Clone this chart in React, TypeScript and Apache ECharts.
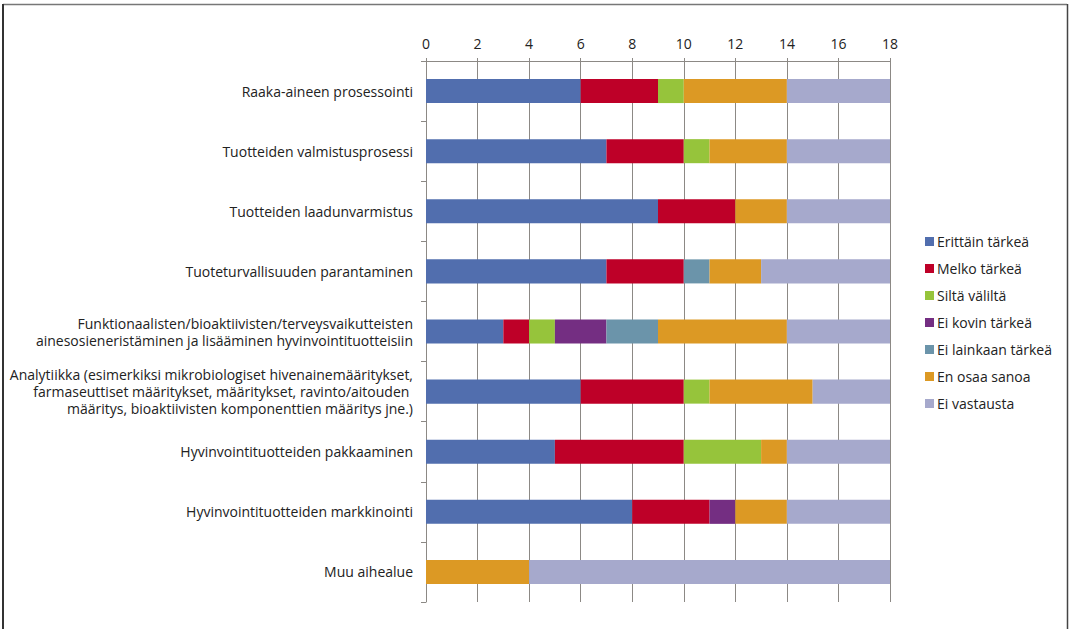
import React, { useEffect, useRef } from "react";
import * as echarts from "echarts";

const categories = [
  "Raaka-aineen prosessointi",
  "Tuotteiden valmistusprosessi",
  "Tuotteiden laadunvarmistus",
  "Tuoteturvallisuuden parantaminen",
  "Funktionaalisten/bioaktiivisten/terveysvaikutteisten\nainesosieneristäminen ja lisääminen hyvinvointituotteisiin",
  "Analytiikka (esimerkiksi mikrobiologiset hivenainemääritykset,\nfarmaseuttiset määritykset, määritykset, ravinto/aitouden \nmääritys, bioaktiivisten komponenttien määritys jne.)",
  "Hyvinvointituotteiden pakkaaminen",
  "Hyvinvointituotteiden markkinointi",
  "Muu aihealue",
];

const seriesNames = [
  "Erittäin tärkeä",
  "Melko tärkeä",
  "Siltä väliltä",
  "Ei kovin tärkeä",
  "Ei lainkaan tärkeä",
  "En osaa sanoa",
  "Ei vastausta",
];

const erittainTarkea = [6, 7, 9, 7, 3, 6, 5, 8, 0];
const melkoTarkea = [3, 3, 3, 3, 1, 4, 5, 3, 0];
const siltaValilta = [1, 1, 0, 0, 1, 1, 3, 0, 0];
const eiKovinTarkea = [0, 0, 0, 0, 2, 0, 0, 1, 0];
const eiLainkaanTarkea = [0, 0, 0, 1, 2, 0, 0, 0, 0];
const enOsaaSanoa = [4, 3, 2, 2, 5, 4, 1, 2, 4];
const eiVastausta = [4, 4, 4, 5, 4, 3, 4, 4, 14];

const seriesValues = [
  erittainTarkea,
  melkoTarkea,
  siltaValilta,
  eiKovinTarkea,
  eiLainkaanTarkea,
  enOsaaSanoa,
  eiVastausta,
];

const colors = ["#516eae", "#be0028", "#96c43b", "#742e82", "#6b94aa", "#dc9924", "#a6a9cc"];

const FONT = "'Open Sans', 'Liberation Sans', Arial, sans-serif";

export default function App() {
  const ref = useRef<HTMLDivElement>(null);

  useEffect(() => {
    if (!ref.current) return;
    const chart = echarts.init(ref.current, null, { renderer: "svg" });
    chart.setOption({
      animation: false,
      backgroundColor: "#ffffff",
      color: colors,
      textStyle: { fontFamily: FONT },
      grid: { left: 426, right: 181, top: 61, bottom: 27, containLabel: false },
      legend: {
        orient: "vertical",
        left: 920,
        top: 228,
        itemWidth: 9,
        itemHeight: 9,
        itemGap: 10,
        icon: "rect",
        data: seriesNames,
        textStyle: { fontSize: 14, color: "#222", fontFamily: FONT, lineHeight: 17, padding: [0, 0, 0, -2] },
      },
      xAxis: {
        type: "value",
        position: "top",
        min: 0,
        max: 18,
        interval: 2,
        axisLine: { show: true, lineStyle: { color: "#8c8985", width: 1 } },
        axisTick: { show: true, length: 3, lineStyle: { color: "#8c8985" } },
        axisLabel: { fontSize: 14, color: "#222", margin: 11, fontFamily: FONT },
        splitLine: { show: true, lineStyle: { color: "#8c8985", width: 1 } },
      },
      yAxis: {
        type: "category",
        inverse: true,
        data: categories,
        axisLine: { show: true, lineStyle: { color: "#8c8985" } },
        axisTick: { show: true, length: 5, lineStyle: { color: "#8c8985" } },
        axisLabel: {
          fontSize: 14,
          color: "#222",
          margin: 13,
          align: "right",
          lineHeight: 17,
          fontFamily: FONT,
        },
      },
      series: seriesNames.map((name, i) => ({
        name,
        type: "bar",
        stack: "total",
        barCategoryGap: "60%",
        data: seriesValues[i],
        itemStyle: { color: colors[i] },
      })),
      graphic: [
        {
          type: "line",
          shape: { x1: 3, y1: 4.5, x2: 1067, y2: 4.5 },
          style: { stroke: "#777", lineWidth: 1.5 },
          silent: true,
        },
        {
          type: "line",
          shape: { x1: 3, y1: 4, x2: 3, y2: 640 },
          style: { stroke: "#333", lineWidth: 2 },
          silent: true,
        },
        {
          type: "line",
          shape: { x1: 1067.5, y1: 4, x2: 1067.5, y2: 640 },
          style: { stroke: "#444", lineWidth: 1.5 },
          silent: true,
        },
      ],
    });
    return () => chart.dispose();
  }, []);

  return (
    <div
      ref={ref}
      style={{ position: "fixed", left: 0, top: 0, width: 1071, height: 629 }}
    />
  );
}
